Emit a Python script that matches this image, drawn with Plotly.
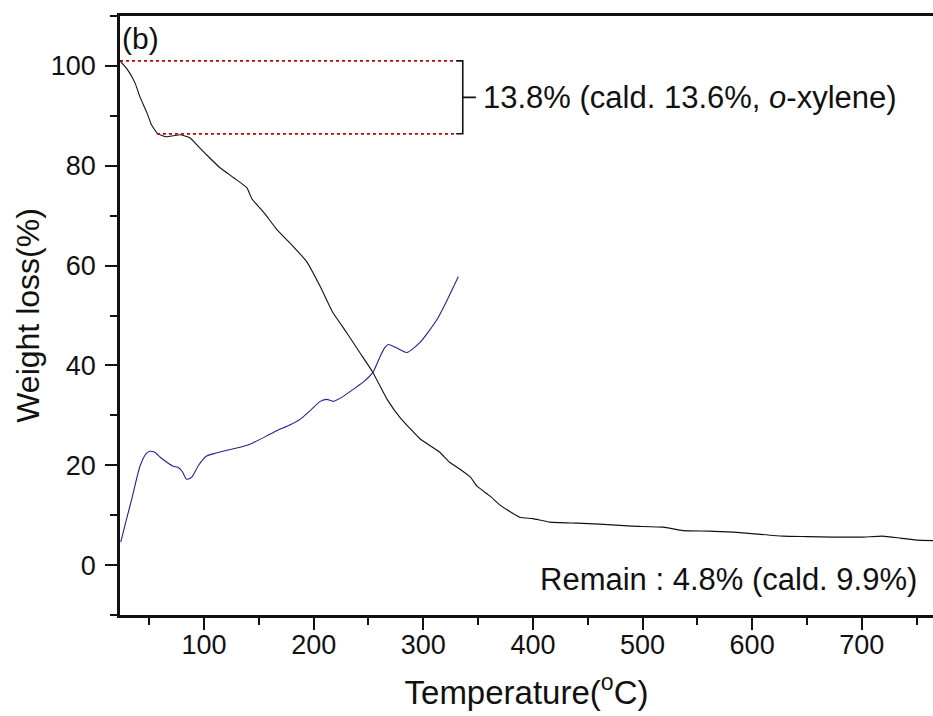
import plotly.graph_objects as go

# TGA (weight loss) curve, black
tga_temp = [23.3, 30, 37, 41.5, 47.9, 52, 57, 62, 66, 72, 78, 87, 96, 105, 114.5, 127, 139, 143.6, 155,
            166.5, 178, 193.6, 206, 217.5, 230, 242, 254, 267, 279, 297, 315, 324, 333.5, 343, 349, 361,
            370, 388, 400, 415.6, 440, 461, 490, 519, 537, 560, 583, 605, 628, 650, 674, 700, 719, 735, 750, 765]
tga_val = [101, 99.3, 96.6, 93.8, 90.6, 88.2, 86.6, 86.0, 85.8, 86.0, 86.2, 85.6, 83.6, 81.6, 79.6, 77.6, 75.6,
           73.4, 70.5, 67.2, 64.6, 60.8, 55.8, 50.6, 46.6, 42.6, 38.6, 33.2, 29.5, 25.3, 22.6, 20.6, 19.2, 17.6,
           15.8, 13.8, 12.0, 9.6, 9.3, 8.6, 8.4, 8.2, 7.8, 7.6, 6.9, 6.8, 6.6, 6.2, 5.8, 5.7, 5.6, 5.6, 5.8, 5.4,
           5.0, 4.9]

# DTA-like curve, blue
dta_temp = [24, 29, 34, 41.5, 47, 50.6, 55, 60, 66, 72, 76, 80, 84, 88.6, 95, 102, 110, 117, 133, 142, 160,
            169, 175.6, 187.5, 198, 206, 212, 218, 227, 236, 246, 254, 260.6, 265, 268, 275, 285, 297, 312.5,
            322, 332]
dta_val = [4.6, 9.0, 13.2, 19.8, 22.3, 22.8, 22.6, 21.6, 20.6, 19.8, 19.6, 18.8, 17.2, 17.6, 20.0, 21.8, 22.4,
           22.8, 23.6, 24.2, 26.2, 27.2, 27.8, 29.2, 31.2, 32.8, 33.2, 32.8, 33.8, 35.2, 36.8, 38.6, 41.8, 43.6,
           44.2, 43.6, 42.6, 44.6, 49.2, 53.2, 57.8]

x_ticks = [100, 200, 300, 400, 500, 600, 700]
y_ticks = [0, 20, 40, 60, 80, 100]

# annotation levels
step_top = 101
step_bottom = 86.4
step_start = 57
line_end = 328
bracket_x = 336

FONT = "Liberation Sans, Arial, sans-serif"
RED = "#c00000"
INK = "#111111"

fig = go.Figure()
fig.add_trace(go.Scatter(x=tga_temp, y=tga_val, mode="lines",
                         line=dict(color=INK, width=1.1, shape="spline", smoothing=0.4),
                         showlegend=False, hoverinfo="skip"))
fig.add_trace(go.Scatter(x=dta_temp, y=dta_val, mode="lines",
                         line=dict(color="#22229a", width=1.1, shape="spline", smoothing=0.6),
                         showlegend=False, hoverinfo="skip"))

# red dotted guide lines
fig.add_trace(go.Scatter(x=[tga_temp[0], line_end], y=[step_top, step_top], mode="lines",
                         line=dict(color=RED, width=1.8, dash="dot"), showlegend=False, hoverinfo="skip"))
fig.add_trace(go.Scatter(x=[step_start, line_end + 3], y=[step_bottom, step_bottom], mode="lines",
                         line=dict(color=RED, width=1.8, dash="dot"), showlegend=False, hoverinfo="skip"))

# bracket
mid = (step_top + step_bottom) / 2
bracket_path = (f"M {bracket_x-6},{step_top} L {bracket_x},{step_top} L {bracket_x},{step_bottom} "
                f"L {bracket_x-6},{step_bottom} M {bracket_x},{mid} L {bracket_x+12},{mid}")
fig.add_shape(type="path", path=bracket_path, xref="x", yref="y",
              line=dict(color=INK, width=1.6))

fig.add_annotation(x=bracket_x + 17, y=mid, xref="x", yref="y", xanchor="left", yanchor="middle",
                   text="13.8% (cald. 13.6%, <i>o</i>-xylene)", showarrow=False,
                   font=dict(family=FONT, size=31, color=INK))
fig.add_annotation(x=752, y=-2.8, xref="x", yref="y", xanchor="right", yanchor="middle",
                   text="Remain : 4.8% (cald. 9.9%)", showarrow=False,
                   font=dict(family=FONT, size=31, color=INK))
fig.add_annotation(x=0, y=105.4, xref="paper", yref="y", xanchor="left", yanchor="middle",
                   text="(b)", showarrow=False, font=dict(family=FONT, size=30, color=INK))

fig.update_layout(
    width=933, height=716,
    margin=dict(l=120, r=0, t=16, b=101),
    paper_bgcolor="white", plot_bgcolor="white",
    font=dict(family=FONT, color=INK),
    xaxis=dict(range=[23.3, 765], tickvals=x_ticks, ticks="outside", ticklen=12, tickwidth=2,
               tickcolor=INK, showline=True, linewidth=2.5, linecolor=INK, mirror=True,
               showgrid=False, zeroline=False, tickfont=dict(size=27, family=FONT),
               ticklabelstandoff=-8, automargin=False,
               minor=dict(dtick=50, tick0=0, ticks="outside", ticklen=7, tickwidth=2, tickcolor=INK,
                          showgrid=False),
               title=dict(text="Temperature(<sup>o</sup>C)", font=dict(size=33, family=FONT), standoff=22)),
    yaxis=dict(range=[-10, 110], tickvals=y_ticks, ticks="outside", ticklen=12, tickwidth=2,
               tickcolor=INK, showline=True, linewidth=2.5, linecolor=INK, mirror=False,
               showgrid=False, zeroline=False, tickfont=dict(size=27, family=FONT),
               ticklabelstandoff=4, automargin=False,
               minor=dict(dtick=10, tick0=0, ticks="outside", ticklen=7, tickwidth=2, tickcolor=INK,
                          showgrid=False),
               title=dict(text="Weight loss(%)", font=dict(size=32, family=FONT), standoff=2)),
)

fig.write_html("out.html", config={"displayModeBar": False},
               post_script="document.body.style.margin='0';document.body.style.overflow='hidden';")
